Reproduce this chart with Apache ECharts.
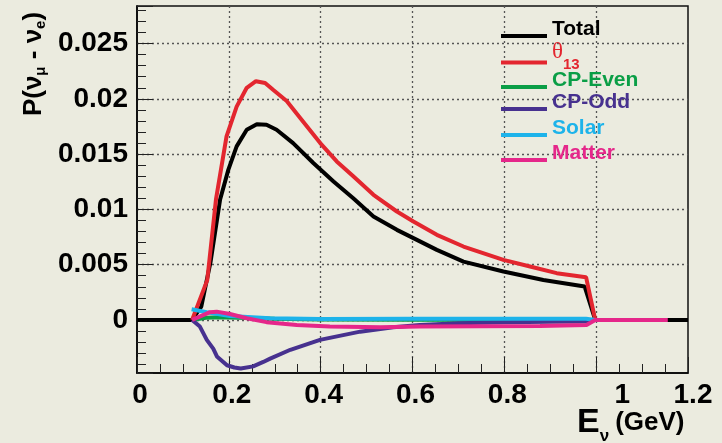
<!DOCTYPE html>
<html>
<head>
<meta charset="utf-8">
<script src="https://cdn.jsdelivr.net/npm/echarts@6/dist/echarts.min.js"></script>
<style>
  html, body { margin: 0; padding: 0; background: #ebebdf; }
  #chart { width: 722px; height: 443px; }
</style>
</head>
<body>
<div id="chart"></div>
<script>
// Oscillation probability P(nu_mu -> nu_e) and its individual terms versus neutrino energy [GeV]
const seriesNames = ['Total', 'θ13', 'CP-Even', 'CP-Odd', 'Solar', 'Matter'];

const total = [
  [0, 0], [0.12, 0], [0.14, 0.0012], [0.16, 0.0052], [0.181, 0.0109], [0.199, 0.0136],
  [0.217, 0.0157], [0.239, 0.0172], [0.261, 0.0177], [0.282, 0.01766], [0.304, 0.0172],
  [0.34, 0.016], [0.384, 0.0142], [0.428, 0.01253], [0.471, 0.0110], [0.515, 0.00936],
  [0.566, 0.00815], [0.602, 0.0074], [0.653, 0.00634], [0.711, 0.00528], [0.798, 0.00438],
  [0.885, 0.00362], [0.975, 0.00302], [0.998, 0], [1.2, 0]
];
const theta13 = [
  [0.12, 0], [0.153, 0.0036], [0.172, 0.0109], [0.195, 0.0166], [0.217, 0.0193],
  [0.239, 0.0210], [0.259, 0.0216], [0.279, 0.02144], [0.297, 0.0208], [0.326, 0.0198],
  [0.355, 0.0183], [0.399, 0.0160], [0.435, 0.01434], [0.471, 0.0130], [0.515, 0.01132],
  [0.566, 0.00981], [0.602, 0.0089], [0.653, 0.0077], [0.711, 0.00664], [0.798, 0.00543],
  [0.856, 0.00483], [0.914, 0.00423], [0.978, 0.00387], [0.998, 0]
];
const cpEven = [
  [0.12, 0], [0.15, 0.0002], [0.18, 0.00025], [0.22, 0.0002], [0.3, 0.0001],
  [0.4, 0.00005], [0.6, 0.00002], [0.978, 0], [0.998, 0]
];
const cpOdd = [
  [0.12, 0], [0.137, -0.0006], [0.152, -0.0018], [0.166, -0.0026], [0.174, -0.0033],
  [0.196, -0.0041], [0.212, -0.0043], [0.226, -0.0044], [0.253, -0.0042], [0.275, -0.0038],
  [0.29, -0.0035], [0.334, -0.0027], [0.3985, -0.0018], [0.486, -0.00106], [0.558, -0.00066],
  [0.616, -0.00045], [0.7, -0.0003], [0.8, -0.00022], [0.9, -0.00016], [0.978, -0.00013],
  [0.998, 0]
];
const solar = [
  [0.119, 0.00097], [0.152, 0.0007], [0.2025, 0.00036], [0.29, 0.00015], [0.4, 0.00008],
  [0.6, 0.0001], [0.8, 0.0001], [0.978, 0.0001], [0.998, 0]
];
const matter = [
  [0.12, 0], [0.159, 0.0007], [0.1735, 0.00075], [0.2025, 0.00054], [0.239, 0.00015],
  [0.282, -0.0002], [0.348, -0.00045], [0.42, -0.0006], [0.53, -0.00066], [0.616, -0.0006],
  [0.878, -0.00054], [0.979, -0.00045], [0.998, 0], [1.156, 0]
];

const xTickValues = [0, 0.2, 0.4, 0.6, 0.8, 1, 1.2];
const xTickLabels = ['0', '0.2', '0.4', '0.6', '0.8', '1', '1.2'];
const yTickValues = [0, 0.005, 0.01, 0.015, 0.02, 0.025];
const yTickLabels = ['0', '0.005', '0.01', '0.015', '0.02', '0.025'];

const seriesData = [total, theta13, cpEven, cpOdd, solar, matter];
const colors = ['#000000', '#e3262f', '#0a9e46', '#47318f', '#1db3ea', '#e5278a'];
const legendLineY = [36, 62, 87, 109, 135, 160];

const FONT = "'Liberation Sans', Arial, Helvetica, sans-serif";

function labelFor(values, labels, v) {
  for (let i = 0; i < values.length; i++) {
    if (Math.abs(values[i] - v) < 1e-9) return labels[i];
  }
  return '';
}

const legends = seriesNames.map((name, i) => {
  const isTheta = name === 'θ13';
  const half = isTheta ? 22 : 17;
  return {
    data: [name],
    orient: 'vertical',
    left: 501,
    top: legendLineY[i] - half,
    padding: 0,
    itemWidth: 46,
    itemHeight: 4,
    icon: 'rect',
    selectedMode: false,
    formatter: isTheta ? '{t|θ}{s|13}' : (n) => '{a|' + n + '}',
    textStyle: {
      color: colors[i],
      rich: {
        a: { fontFamily: FONT, fontSize: 21, fontWeight: 'bold', color: colors[i],
             lineHeight: 21, padding: [0, 0, 13, 0] },
        t: { fontFamily: "'Liberation Serif', 'DejaVu Serif', serif", fontSize: 23,
             color: colors[i], lineHeight: 22, padding: [0, 0, 22, 0] },
        s: { fontFamily: FONT, fontSize: 15, fontWeight: 'bold', color: colors[i],
             lineHeight: 15, padding: [4, 0, 0, 0] }
      }
    }
  };
});

const chart = echarts.init(document.getElementById('chart'), null, { renderer: 'canvas' });

chart.setOption({
  animation: false,
  backgroundColor: '#ebebdf',
  grid: {
    left: 137, right: 34, top: 6, bottom: 70,
    show: true, borderColor: '#111', borderWidth: 1.5, backgroundColor: 'transparent',
    outerBoundsMode: 'none'
  },
  legend: legends,
  xAxis: {
    type: 'value', min: 0, max: 1.2, interval: 0.2,
    axisLine: { show: true, onZero: false, lineStyle: { color: '#000', width: 1.5 } },
    axisTick: { show: true, inside: true, length: 16, lineStyle: { color: '#222', width: 1 } },
    minorTick: { show: true, splitNumber: 4, length: 9, lineStyle: { color: '#222', width: 1 } },
    splitLine: { show: true, showMinLine: false, showMaxLine: false,
                 lineStyle: { color: '#555', width: 1.3, type: [2, 3] } },
    axisLabel: {
      margin: 8, color: '#000',
      formatter: (v) => {
        const t = labelFor(xTickValues, xTickLabels, v);
        if (t === '1') return '{one|' + t + '}';
        if (t === '1.2') return '{end|' + t + '}';
        return '{n|' + t + '}';
      },
      rich: {
        n: { fontFamily: FONT, fontSize: 28, fontWeight: 'bold', color: '#000', padding: [0, 0, 0, 6] },
        one: { fontFamily: FONT, fontSize: 28, fontWeight: 'bold', color: '#000', padding: [0, 0, 0, 52] },
        end: { fontFamily: FONT, fontSize: 28, fontWeight: 'bold', color: '#000', padding: [0, 0, 0, 10] }
      }
    }
  },
  yAxis: {
    type: 'value', min: -0.0048, max: 0.0284, splitNumber: 5,
    axisLine: { show: true, onZero: false, lineStyle: { color: '#000', width: 1.5 } },
    axisTick: { show: true, inside: true, length: 16, lineStyle: { color: '#222', width: 1 } },
    minorTick: { show: true, splitNumber: 5, length: 9, lineStyle: { color: '#222', width: 1 } },
    splitLine: { show: true, showMinLine: false, showMaxLine: false,
                 lineStyle: { color: '#555', width: 1.3, type: [2, 3] } },
    axisLabel: {
      margin: 9, color: '#000', fontFamily: FONT, fontSize: 28, fontWeight: 'bold',
      showMinLabel: false, showMaxLabel: false,
      formatter: (v) => labelFor(yTickValues, yTickLabels, v)
    }
  },
  series: seriesNames.map((name, i) => ({
    name: name,
    type: 'line',
    data: seriesData[i],
    showSymbol: false,
    symbol: 'none',
    smooth: false,
    color: colors[i],
    lineStyle: { width: 4, color: colors[i] },
    itemStyle: { color: colors[i] },
    emphasis: { disabled: true }
  })),
  graphic: [
    {
      type: 'text', x: 34, y: 64, rotation: Math.PI / 2,
      style: {
        text: '{m|P(ν}{s|μ}{m| - ν}{s|e}{m|)}',
        align: 'center', verticalAlign: 'middle',
        rich: {
          m: { fontFamily: FONT, fontSize: 26, fontWeight: 'bold', fill: '#000', lineHeight: 26 },
          s: { fontFamily: FONT, fontSize: 15, fontWeight: 'bold', fill: '#000', lineHeight: 15,
               padding: [14, 0, 0, 0] }
        }
      }
    },
    {
      type: 'text', x: 577, y: 423,
      style: {
        text: '{e|E}{s|ν}{g|(GeV)}',
        align: 'left', verticalAlign: 'middle',
        rich: {
          e: { fontFamily: FONT, fontSize: 34, fontWeight: 'bold', fill: '#000', lineHeight: 34 },
          s: { fontFamily: FONT, fontSize: 17, fontWeight: 'bold', fill: '#000', lineHeight: 17,
               padding: [26, 0, 0, 0] },
          g: { fontFamily: FONT, fontSize: 26, fontWeight: 'bold', fill: '#000', lineHeight: 26,
               padding: [0, 0, 0, 6] }
        }
      }
    }
  ]
});
</script>
</body>
</html>
